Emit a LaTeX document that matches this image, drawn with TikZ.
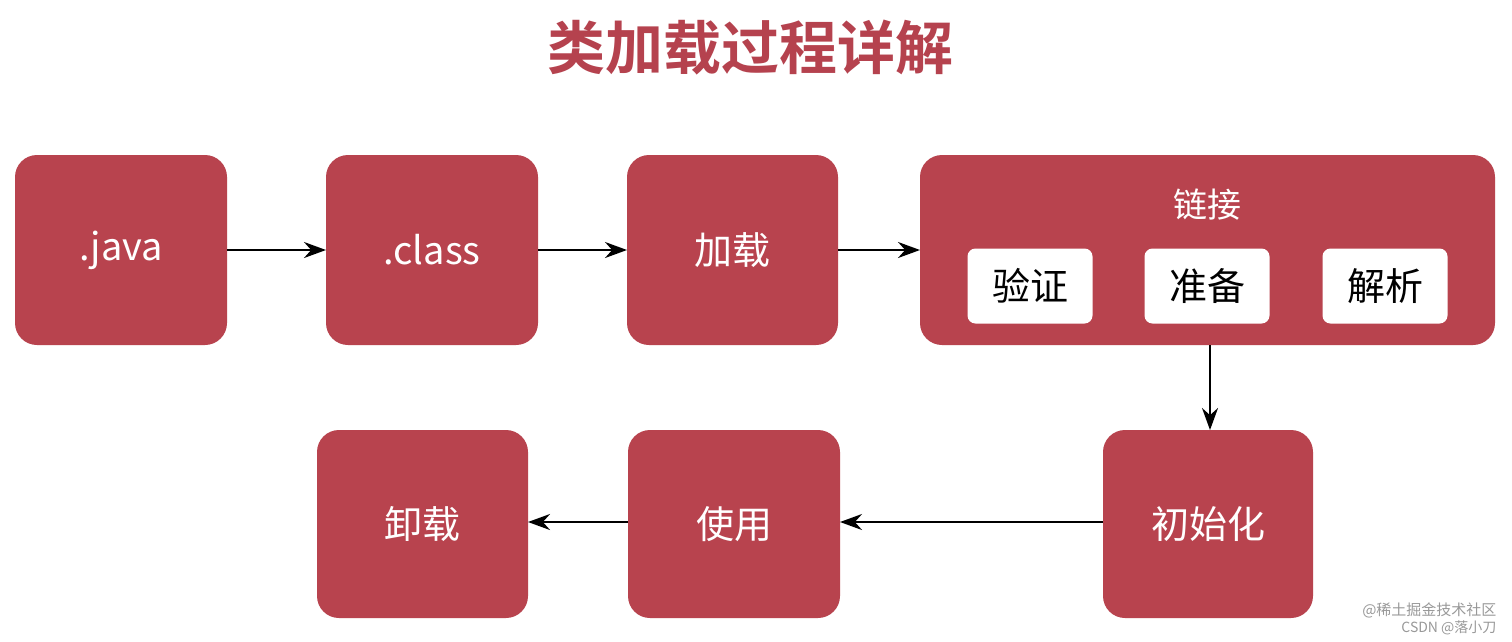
\documentclass[tikz,border=0pt]{standalone}
\usepackage{fontspec}
\setmainfont{Noto Sans CJK SC}
\newfontfamily\cjkbold{Noto Sans CJK SC Bold}
\usetikzlibrary{arrows.meta}
\definecolor{boxred}{HTML}{B8434E}
\definecolor{titlered}{HTML}{B5424E}
\tikzset{
 x=1pt,y=-1pt,
 rbox/.style={fill=boxred,rounded corners=22pt,text=white,font=\fontsize{38}{40}\selectfont},
 wbox/.style={fill=white,rounded corners=8pt,text=black,font=\fontsize{38}{40}\selectfont,minimum width=125pt,minimum height=75pt,inner sep=0pt},
 arr/.style={-{Stealth[length=22pt,width=16pt]},line width=2pt,black}
}
\begin{document}
\begin{tikzpicture}
\useasboundingbox[fill=white] (0,0) rectangle (1512,641);
\node[text=titlered,font=\cjkbold\fontsize{58}{60}\selectfont] (title) at (750,48) {类加载过程详解};
\newcommand{\rb}[6]{\path[rbox] (#2,#3) rectangle (#4,#5); \node[text=white,font=\fontsize{38}{40}\selectfont] (#1) at ({(#2+#4)/2},{(#3+#5)/2}) {#6};}
\rb{java}{15}{155}{227}{345}{.java}
\rb{class}{326}{155}{538}{345}{.class}
\rb{load}{627}{155}{838}{345}{加载}
\path[rbox] (920,155) rectangle (1495,345);
\node[text=white,font=\fontsize{34}{36}\selectfont] (linkt) at (1207,205) {链接};
\node[wbox] (v) at (1030,286) {验证};
\node[wbox] (p) at (1207,286) {准备};
\node[wbox] (j) at (1385,286) {解析};
\rb{unload}{317}{430}{528}{618}{卸载}
\rb{use}{628}{430}{840}{618}{使用}
\rb{init}{1103}{430}{1313}{618}{初始化}
\coordinate (linkR) at (920,250);
\coordinate (linkB) at (1210,345);
\draw[arr] (227,250) -- (326,250);
\draw[arr] (538,250) -- (627,250);
\draw[arr] (838,250) -- (linkR);
\draw[arr] (linkB) -- (1210,430);
\draw[arr] (1103,522) -- (840,522);
\draw[arr] (628,522) -- (528,522);
\node[text=gray!80,font=\fontsize{15}{16}\selectfont,anchor=east] (wm1) at (1500,610) {@稀土掘金技术社区};
\node[text=gray!80,font=\fontsize{14}{15}\selectfont,anchor=east] (wm2) at (1500,628) {CSDN @落小刀};
\end{tikzpicture}
\end{document}
